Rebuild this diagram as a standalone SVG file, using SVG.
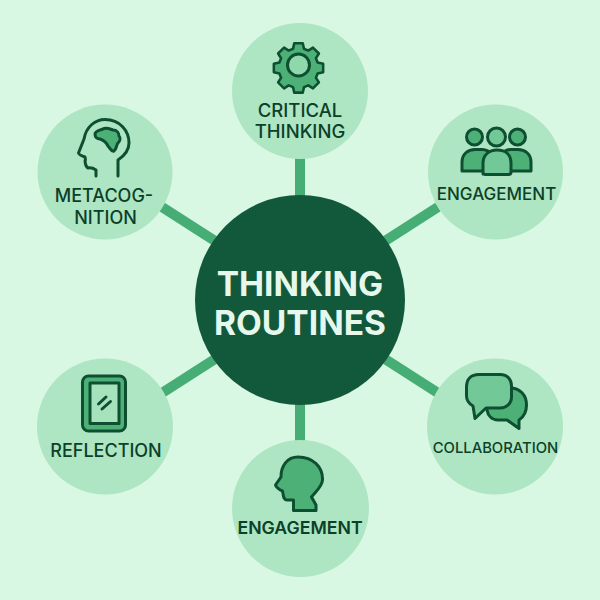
<svg xmlns="http://www.w3.org/2000/svg" width="600" height="600" viewBox="0 0 600 600">
<defs>
<style>
.n{fill:#aee6c3}
.t{font-family:"Inter","Liberation Sans",sans-serif;font-weight:500;fill:#0b4029;text-anchor:middle}
.h{font-family:"Inter","Liberation Sans",sans-serif;font-weight:700;font-size:33.500px;fill:#e6f8ec;text-anchor:middle}
.i{stroke:#0e4f32;stroke-width:3;stroke-linejoin:round;stroke-linecap:round}
.m{fill:#4cb077}
.l{fill:#72c997}
.s{fill:none}
.c{stroke:#46ad74;stroke-width:10;fill:none}
</style>
</defs>
<rect width="600" height="600" fill="#d9f8e4"/>
<g id="connectors" class="c">
<line x1="300" y1="158" x2="300" y2="198"/>
<line x1="300" y1="402" x2="300" y2="442"/>
<line x1="162" y1="207" x2="215" y2="241"/>
<line x1="438" y1="207" x2="385" y2="241"/>
<line x1="162" y1="393" x2="215" y2="359"/>
<line x1="438" y1="393" x2="385" y2="359"/>
</g>
<g id="center">
<circle cx="300" cy="300" r="105" fill="#12593b"/>
<text class="h" x="300" y="296">THINKING</text>
<text class="h" x="300" y="335">ROUTINES</text>
</g>
<g id="critical-thinking">
<circle class="n" cx="300" cy="91" r="68"/>
<path class="i m" transform="translate(298.500 65) scale(.85) translate(-300 -65.500)" d="M295 40h10l1.500 6.500 5 2 5.500-3.500 7 7-3.500 5.500 2 5 6.500 1.500v10l-6.500 1.500-2 5 3.500 5.500-7 7-5.500-3.500-5 2-1.500 6.500h-10l-1.500-6.500-5-2-5.500 3.500-7-7 3.500-5.500-2-5-6.500-1.500v-10l6.500-1.500 2-5-3.500-5.500 7-7 5.500 3.500 5-2z"/>
<circle class="i" cx="298.500" cy="65" r="11" fill="#8ed8ab"/>
<text class="t" x="300" y="117" font-size="18.500">CRITICAL</text>
<text class="t" x="300" y="138" font-size="18.500">THINKING</text>
</g>
<g id="metacognition">
<circle class="n" cx="105" cy="172" r="67.500"/>
<path class="i s" d="M96 176V170C93 168 91 167.500 88 168C85 166 85.500 163 85 161C86 159 85 158 85 157C82 156 79 155 78.500 153L84 139C86 127 95 119.500 105 119.500C120 119.500 129 131 129 143C129 151 124 156 118 160V176"/>
<path class="i m" stroke-width="2" d="M95 134C95 131 100 130 103 129C106 127 110 129 113 130C117 130 119 133 119 136C121 138 120 141 118 143C116 145 117 149 114 151C111 152 110 148 108 146C106 142 103 140 100 139C97 139 95 137 95 134Z"/>
<text class="t" x="104" y="202" font-size="18">METACOG-</text>
<text class="t" x="105.500" y="224" font-size="18">NITION</text>
</g>
<g id="engagement-top">
<circle class="n" cx="495.500" cy="172" r="67.500"/>
<circle class="i m" cx="474.500" cy="137" r="8"/>
<circle class="i l" cx="496.500" cy="137" r="9"/>
<circle class="i m" cx="517.500" cy="137" r="8"/>
<path class="i m" d="M462 171V162C462 154 468 149.500 475 149.500H482C486 149.500 490 152 492 155L486 171Z"/>
<path class="i m" d="M531 171V162C531 154 525 149.500 518 149.500H511C507 149.500 503 152 501 155L507 171Z"/>
<path class="i l" d="M483 174V163C483 155 489 150 497 150C506 150 511 155 511 163V172C511 173.500 510 174.500 508.500 174.500H485.500C484 174.500 483 173.500 483 172Z"/>
<text class="t" x="496.500" y="200" font-size="17">ENGAGEMENT</text>
</g>
<g id="reflection">
<circle class="n" cx="105" cy="426.500" r="68"/>
<rect class="i m" x="82.500" y="376" width="43" height="55" rx="6"/>
<rect class="i" x="90" y="383" width="29" height="40.500" fill="#a6e3bd" stroke-width="2.200"/>
<path class="i s" d="M98.500 404L106 397M102 409L110.500 401.500"/>
<text class="t" x="106" y="457" font-size="18">REFLECTION</text>
</g>
<g id="collaboration">
<circle class="n" cx="495" cy="426.500" r="68"/>
<path class="i m" d="M510 388C520 388 526.500 395 526.500 405C526.500 413 522 418 519 420V428.500L507 420H498C492 420 488 416 487 410V388Z"/>
<path class="i l" d="M479 374.500H500C508 374.500 511.500 380 511.500 386V397C511.500 403 507 408 500 408H486L475 418.500L473 406C468 403 466.500 400 466.500 396V387C466.500 379 471 374.500 479 374.500Z"/>
<text class="t" x="495.500" y="453" font-size="14.800">COLLABORATION</text>
</g>
<g id="engagement-bottom">
<circle class="n" cx="300.500" cy="508.500" r="68.500"/>
<path class="i m" d="M298 457C313 457 323 467 322.500 480C322 487 316 491 311.500 497L316 505V510.500H293.500V500H287C283 500 283.500 495 282.500 491C280 490 275.500 487 275.500 485L281 477C281 466 287 457 298 457Z"/>
<text class="t" x="300" y="534" font-size="17.700" font-weight="600" style="font-weight:600">ENGAGEMENT</text>
</g>
</svg>
